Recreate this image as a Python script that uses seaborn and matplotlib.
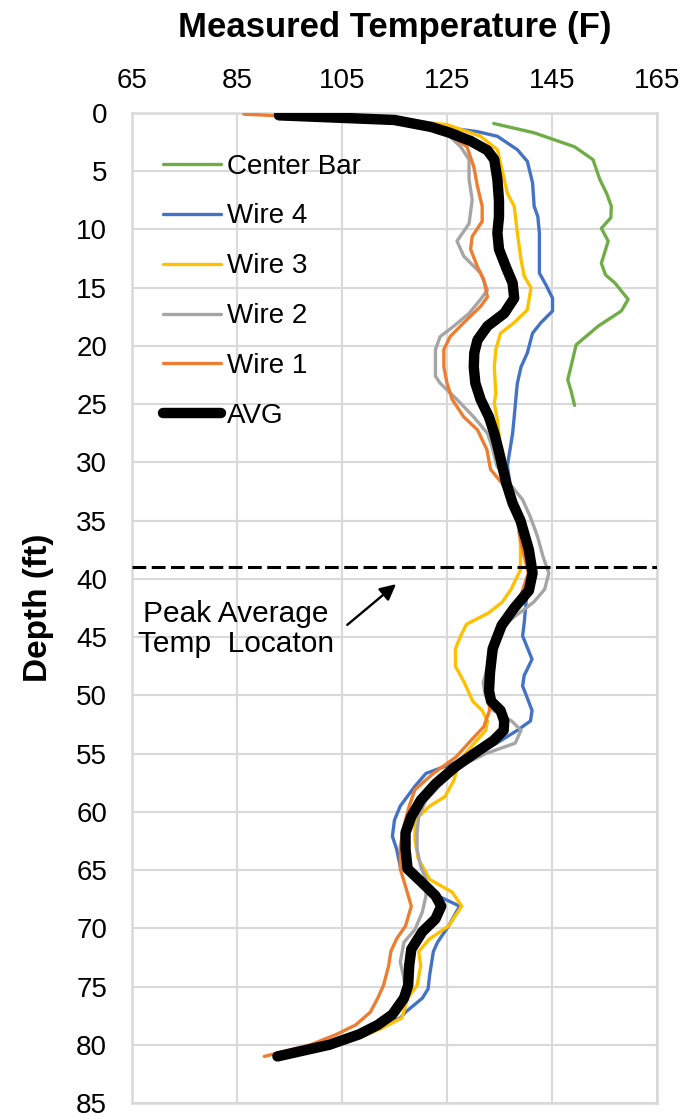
import matplotlib
matplotlib.use("Agg")
import matplotlib.pyplot as plt
import seaborn as sns
import pandas as pd

# ---------------- data ----------------
center_depth = [0.9, 1.7, 2.9, 4.0, 5.7, 6.9, 8.0, 9.0, 9.9, 11.0, 12.9, 13.9, 14.6, 16.0,
                17.0, 18.3, 19.9, 21.8, 22.9, 23.8, 25.1]
center_temp = [133.9, 141.6, 149.3, 152.8, 154.1, 155.4, 156.3, 156.2, 154.4, 155.7, 154.4,
               155.2, 157.0, 159.5, 158.2, 153.8, 149.6, 148.6, 148.0, 148.6, 149.3]

wire4_depth = [0.2, 0.7, 1.2, 1.6, 2.0, 3.15, 4.15, 6.0, 8.0, 8.9, 10.3, 11.7, 13.75, 14.8, 15.9,
               17.0, 18.0, 18.9, 20.6, 21.8, 23.2, 24.6, 26.1, 27.5, 28.9, 30.3, 31.8, 33.5, 35.0,
               37.5, 39.5, 41.8, 43.8, 44.9, 46.9, 48.3, 49.2, 50.0, 51.3, 52.2, 53.0, 54.1, 55.3,
               56.7, 57.8, 59.5, 60.7, 62.1, 63.2, 64.7, 65.5, 66.4, 67.2, 68.1, 69.8, 71.2, 72.0,
               74.0, 75.2, 76.0, 77.2, 77.7, 78.5, 79.2, 80.0, 81.0]
wire4_temp = [93.0, 114.0, 124.0, 130.8, 134.6, 138.4, 140.3, 141.3, 141.6, 142.3, 142.6, 142.6,
              142.6, 143.9, 145.1, 145.1, 142.9, 141.3, 140.3, 139.1, 138.4, 138.1, 137.8, 137.5,
              137.0, 136.5, 137.0, 138.0, 139.2, 140.5, 141.0, 140.1, 139.7, 139.4, 141.2, 139.7,
              139.4, 140.1, 141.2, 140.9, 138.4, 134.5, 129.5, 121.0, 118.9, 116.1, 115.0, 114.6,
              115.4, 116.1, 118.5, 121.0, 123.2, 127.4, 125.3, 123.2, 122.4, 121.7, 121.4, 120.3,
              117.1, 116.1, 112.5, 108.5, 103.0, 93.5]

wire3_depth = [0.2, 0.6, 1.0, 2.0, 3.15, 4.9, 6.9, 8.0, 10.3, 12.6, 14.0, 15.0, 16.9, 18.0, 18.9,
               20.3, 21.8, 24.1, 24.9, 26.4, 28.7, 31.0, 33.5, 35.5, 37.2, 39.2, 40.9, 42.0, 42.9,
               43.9, 44.9, 46.0, 47.5, 48.9, 50.0, 50.5, 51.3, 52.2, 53.0, 54.1, 55.6, 57.3, 58.7,
               59.5, 60.7, 62.4, 64.0, 65.8, 66.9, 68.1, 69.8, 70.9, 72.0, 73.2, 74.9, 76.0, 77.7,
               78.6, 79.4, 80.0, 81.0]
wire3_temp = [95.0, 116.0, 125.0, 131.4, 134.6, 135.5, 136.5, 137.8, 138.4, 139.1, 139.7, 141.0,
              140.3, 137.8, 135.2, 134.3, 134.0, 134.3, 134.0, 134.6, 135.2, 136.0, 137.5, 138.8,
              139.0, 139.0, 137.2, 135.5, 133.0, 128.7, 127.6, 126.6, 126.6, 128.3, 129.4, 129.9,
              131.7, 132.7, 132.4, 130.2, 127.4, 126.3, 124.6, 121.7, 118.9, 118.9, 119.5, 121.7,
              126.0, 127.8, 125.3, 121.7, 119.6, 120.0, 119.3, 117.5, 116.4, 112.5, 108.3, 103.3,
              93.5]

wire2_depth = [0.2, 0.7, 1.2, 2.0, 2.9, 4.0, 5.7, 7.45, 9.5, 11.0, 12.3, 13.75, 15.2, 16.0, 17.2,
               18.3, 19.2, 20.3, 22.6, 23.2, 24.6, 26.1, 27.5, 28.7, 30.3, 31.8, 33.2, 34.6, 36.3,
               38.1, 39.5, 40.9, 42.0, 43.2, 44.1, 46.0, 47.5, 48.9, 50.0, 51.3, 52.2, 53.0, 54.1,
               55.0, 56.1, 57.8, 59.0, 60.4, 61.8, 63.2, 64.7, 65.8, 67.2, 68.6, 70.1, 71.2, 72.9,
               74.3, 75.5, 76.5, 77.5, 78.5, 79.3, 80.1, 81.0]
wire2_temp = [92.0, 113.0, 121.0, 125.5, 127.6, 129.2, 129.2, 129.8, 129.2, 126.9, 128.2, 131.4,
              132.7, 131.4, 129.2, 126.3, 123.7, 122.8, 122.8, 123.7, 126.9, 130.1, 132.7, 133.6,
              134.5, 136.9, 139.4, 140.8, 142.2, 143.3, 144.4, 143.6, 141.5, 138.0, 135.5, 134.0,
              132.8, 131.9, 132.3, 133.8, 137.3, 139.1, 138.0, 132.4, 127.4, 123.5, 121.0, 119.6,
              119.3, 119.3, 120.0, 121.0, 121.0, 120.3, 118.9, 116.8, 116.1, 116.8, 117.1, 116.0,
              114.0, 111.0, 107.5, 102.0, 92.5]

wire1_depth = [0.1, 0.6, 1.2, 1.7, 2.9, 4.6, 6.3, 8.0, 9.3, 10.6, 11.7, 13.2, 14.3, 15.8, 16.6,
               18.0, 19.2, 20.3, 21.8, 23.2, 24.6, 26.1, 27.2, 28.9, 30.6, 31.8, 33.2, 34.6, 36.0,
               37.5, 39.5, 41.5, 43.2, 44.9, 46.0, 48.0, 50.0, 51.3, 52.7, 53.9, 55.3, 56.7, 58.1,
               59.5, 61.2, 63.0, 64.9, 66.4, 68.1, 69.8, 70.9, 72.0, 73.2, 74.9, 76.0, 77.2, 78.3,
               79.1, 80.0, 81.0]
wire1_temp = [86.3, 110.0, 120.0, 125.0, 128.8, 130.1, 130.8, 131.7, 131.7, 129.8, 129.5, 130.8,
              132.0, 132.7, 131.4, 128.2, 125.6, 124.4, 124.4, 125.0, 126.0, 128.2, 130.8, 132.6,
              133.3, 135.5, 137.6, 139.0, 138.7, 139.4, 140.5, 139.0, 136.5, 135.1, 134.4, 133.5,
              133.0, 133.1, 132.0, 129.5, 126.7, 122.4, 118.9, 117.8, 116.8, 116.1, 116.1, 117.1,
              118.2, 117.1, 115.4, 114.3, 113.9, 112.9, 111.8, 110.4, 107.6, 104.0, 99.0, 90.2]

avg_depth = [0.2, 0.6, 1.2, 1.7, 2.4, 3.2, 4.0, 5.7, 7.5, 8.9, 10.3, 11.7, 13.2, 14.6, 15.9, 17.2,
             18.3, 19.5, 20.6, 21.8, 23.2, 24.6, 26.1, 27.5, 28.9, 31.8, 33.5, 35.0, 37.5, 39.5,
             41.0, 42.5, 44.0, 46.0, 48.0, 49.6, 50.5, 51.3, 52.2, 53.0, 53.9, 55.0, 56.1, 57.6,
             59.0, 60.4, 61.8, 63.2, 64.9, 66.1, 67.2, 68.1, 69.2, 70.3, 71.8, 73.2, 74.9, 76.0,
             77.4, 78.3, 79.1, 80.0, 81.0]
avg_temp = [93.0, 115.0, 122.0, 125.5, 129.5, 132.7, 134.0, 134.6, 134.9, 134.9, 134.6, 134.9,
            136.2, 137.5, 137.8, 135.9, 132.7, 130.8, 130.2, 130.1, 130.4, 131.4, 133.0, 134.0,
            134.8, 136.3, 137.5, 139.0, 140.6, 141.3, 140.6, 137.8, 135.4, 133.7, 133.2, 133.0,
            133.4, 135.2, 135.9, 135.8, 133.8, 130.2, 126.7, 122.8, 120.0, 118.2, 117.1, 117.1,
            117.5, 120.3, 122.8, 123.9, 122.8, 120.3, 118.2, 117.8, 117.6, 116.8, 114.6, 111.8,
            108.3, 102.6, 92.7]

series_names = ["Center Bar", "Wire 4", "Wire 3", "Wire 2", "Wire 1", "AVG"]
series_depths = [center_depth, wire4_depth, wire3_depth, wire2_depth, wire1_depth, avg_depth]
series_temps = [center_temp, wire4_temp, wire3_temp, wire2_temp, wire1_temp, avg_temp]

x_ticks = [65, 85, 105, 125, 145, 165]
y_ticks = [0, 5, 10, 15, 20, 25, 30, 35, 40, 45, 50, 55, 60, 65, 70, 75, 80, 85]
peak_depth = 39

# ---------------- styling ----------------
colors = ["#70AD47", "#4472C4", "#FFC000", "#A5A5A5", "#ED7D31", "#000000"]
widths = [2.4, 2.4, 2.4, 2.4, 2.4, 7.5]

sns.set_theme(style="white")
plt.rcParams["font.family"] = ["Liberation Sans", "DejaVu Sans"]
plt.rcParams["text.color"] = "black"
plt.rcParams["axes.labelcolor"] = "black"
plt.rcParams["xtick.color"] = "black"
plt.rcParams["ytick.color"] = "black"

fig = plt.figure(figsize=(6.85, 11.16), dpi=100)
ax = fig.add_axes([132 / 685, 1 - 1103 / 1116, (657 - 132) / 685, (1103 - 113) / 1116])

for i, (name, d, t) in enumerate(zip(series_names, series_depths, series_temps)):
    df = pd.DataFrame({"Temperature": t, "Depth": d})
    sns.lineplot(data=df, x="Temperature", y="Depth", sort=False, estimator=None,
                 color=colors[i], linewidth=widths[i], label=name, ax=ax, zorder=3 + i)

ax.axhline(peak_depth, color="black", linestyle=(0, (4.5, 1.8)), linewidth=2.2, zorder=10)

ax.set_xlim(65, 165)
ax.set_ylim(85, 0)
ax.set_xticks(x_ticks)
ax.set_yticks(y_ticks)

ax.xaxis.set_label_position("top")
ax.tick_params(axis="x", top=True, labeltop=True, bottom=False, labelbottom=False,
               length=0, pad=14, labelsize=20, colors="black")
ax.tick_params(axis="y", length=0, pad=18, labelsize=20, colors="black")
ax.set_xlabel("Measured Temperature (F)", fontsize=25, fontweight="bold", labelpad=22,
              color="black")
ax.set_ylabel("Depth (ft)", fontsize=24, fontweight="bold", labelpad=16, color="black")

ax.grid(True, color="#d9d9d9", linewidth=1.5, zorder=0)
ax.set_axisbelow(True)
for sp in ax.spines.values():
    sp.set_color("#d9d9d9")
    sp.set_linewidth(1.8)

ax.text(84.8, 44.3, "Peak Average\nTemp  Locaton", ha="center", va="center",
        fontsize=21.5, linespacing=1.1, color="black", zorder=11)
ax.annotate("", xy=(115.7, 40.3), xytext=(105.6, 44.1),
            arrowprops=dict(arrowstyle="-|>", color="black", lw=1.7, mutation_scale=24),
            zorder=11)

handles, labels = ax.get_legend_handles_labels()
leg = ax.legend(handles, labels, loc="upper left", bbox_to_anchor=(0.059, 0.959),
                frameon=False, fontsize=20, borderpad=0, borderaxespad=0,
                handlelength=2.1, handletextpad=0.2, labelspacing=0.86)
leg.set_zorder(12)
for txt in leg.get_texts():
    txt.set_color("black")

fig.savefig("out.png", dpi=100)
